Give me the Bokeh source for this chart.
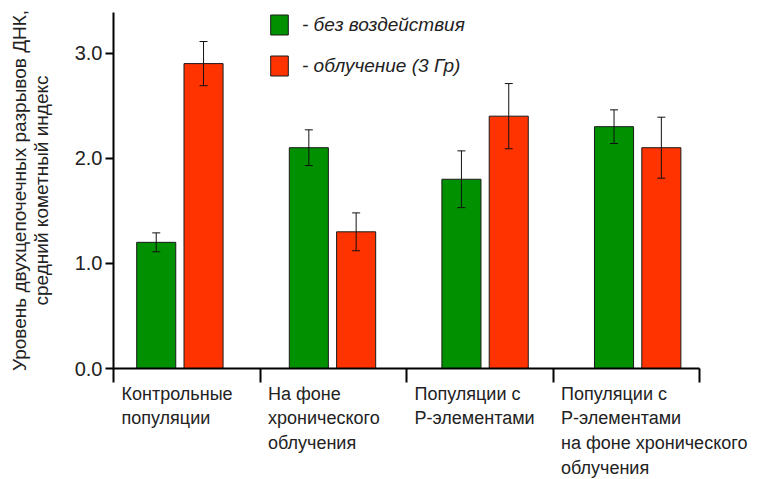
from bokeh.plotting import figure
from bokeh.layouts import column
from bokeh.models import (ColumnDataSource, Whisker, Legend, LegendItem,
                          FixedTicker, NumeralTickFormatter, Range1d, TeeHead,
                          CustomJSTickFormatter)
from bokeh.core.properties import value
from bokeh.embed import file_html
from bokeh.resources import INLINE

# ---- data ----
categories = [
    "Контрольные\nпопуляции",
    "На фоне\nхронического\nоблучения",
    "Популяции с\nP-элементами",
    "Популяции с\nP-элементами\nна фоне хронического\nоблучения",
]
series_names = ["- без воздействия", "- облучение (3 Гр)"]
control_vals = [1.2, 2.1, 1.8, 2.3]
control_err = [0.09, 0.17, 0.27, 0.16]
irradiated_vals = [2.9, 1.3, 2.4, 2.1]
irradiated_err = [0.21, 0.18, 0.31, 0.29]
y_ticks = [0, 1, 2, 3]
y_label = "Уровень двухцепочечных разрывов ДНК,\nсредний кометный индекс"

# ---- layout constants ----
RED_SHIFT = 0.31
BAR_W = 0.256
BOUND0 = -0.28
BOUND_STEP = 0.96
GREEN = "#009000"
RED = "#ff3300"
FONT = "Liberation Sans"
TXT = "#222222"
W = 768
LEFT = 113
RIGHT = 69
TOP = 12
FRAME_H = 356
Y_END = 3.386

n = len(categories)
xg = [i for i in range(n)]
xr = [i + RED_SHIFT for i in range(n)]
bounds = [BOUND0 + BOUND_STEP * k for k in range(n + 1)]
frame_w = W - LEFT - RIGHT
units_per_px = (bounds[-1] - bounds[0]) / frame_w

p = figure(width=W, height=TOP + FRAME_H + 15, output_backend="svg",
           toolbar_location=None,
           x_range=Range1d(bounds[0], bounds[-1]), y_range=Range1d(0, Y_END),
           min_border_left=LEFT, min_border_right=RIGHT, min_border_top=TOP,
           min_border_bottom=15)
p.frame_align = False
p.outline_line_color = None
p.xgrid.grid_line_color = None
p.ygrid.grid_line_color = None

src_g = ColumnDataSource(dict(x=xg, top=control_vals,
                              upper=[v + e for v, e in zip(control_vals, control_err)],
                              lower=[v - e for v, e in zip(control_vals, control_err)]))
src_r = ColumnDataSource(dict(x=xr, top=irradiated_vals,
                              upper=[v + e for v, e in zip(irradiated_vals, irradiated_err)],
                              lower=[v - e for v, e in zip(irradiated_vals, irradiated_err)]))

rg = p.vbar(x="x", top="top", width=BAR_W, source=src_g, fill_color=GREEN,
            line_color="#1a1a1a", line_width=1)
rr = p.vbar(x="x", top="top", width=BAR_W, source=src_r, fill_color=RED,
            line_color="#1a1a1a", line_width=1)

for src in (src_g, src_r):
    w = Whisker(base="x", upper="upper", lower="lower", source=src,
                line_color="#111111", line_width=1, level="annotation",
                upper_head=TeeHead(size=8, line_color="#111111", line_width=1),
                lower_head=TeeHead(size=8, line_color="#111111", line_width=1))
    p.add_layout(w)

# axes
yax = p.yaxis[0]
yax.ticker = FixedTicker(ticks=y_ticks)
yax.formatter = NumeralTickFormatter(format="0.0")
yax.minor_tick_line_color = None
yax.major_tick_out = 8
yax.major_tick_in = 0
yax.axis_line_width = 2
yax.major_tick_line_width = 2
yax.major_label_text_font = FONT
yax.major_label_text_font_size = "20px"
yax.major_label_text_color = TXT
yax.major_label_standoff = 3
yax.axis_label = y_label
yax.axis_label_text_font = FONT
yax.axis_label_text_font_size = "19px"
yax.axis_label_text_font_style = "normal"
yax.axis_label_text_color = TXT
yax.axis_label_text_line_height = 1.05
yax.axis_label_standoff = 20

xax = p.xaxis[0]
xax.ticker = FixedTicker(ticks=bounds)
xax.formatter = CustomJSTickFormatter(code="return '';")
xax.major_label_standoff = 0
xax.minor_tick_line_color = None
xax.major_tick_out = 14
xax.major_tick_in = 0
xax.axis_line_width = 2
xax.major_tick_line_width = 2

legend = Legend(items=[LegendItem(label=series_names[0], renderers=[rg]),
                       LegendItem(label=series_names[1], renderers=[rr])],
                location=(155, 290), padding=0, margin=0, spacing=16,
                glyph_width=22, glyph_height=25, label_height=25,
                label_standoff=12, border_line_alpha=0,
                background_fill_alpha=0,
                label_text_font=FONT, label_text_font_size="19px",
                label_text_font_style="italic", label_text_color=TXT)
p.add_layout(legend)

# category labels panel below the axis (frame runs to the right edge)
P2_H = 479 - (TOP + FRAME_H + 15)
p2 = figure(width=W, height=P2_H, output_backend="svg", toolbar_location=None,
            x_range=Range1d(bounds[0], bounds[-1] + RIGHT * units_per_px),
            y_range=Range1d(-P2_H, 0),
            x_axis_type=None, y_axis_type=None,
            min_border_left=LEFT, min_border_right=0, min_border_top=0,
            min_border_bottom=0)
p2.frame_align = False
p2.outline_line_color = None
p2.xgrid.grid_line_color = None
p2.ygrid.grid_line_color = None
lab_src = ColumnDataSource(dict(x=bounds[:n], y=[0] * n, text=categories))
p2.text(x="x", y="y", text="text", source=lab_src, x_offset=8,
        text_align="left", text_baseline="top", text_font=value(FONT),
        text_font_size="18px", text_color=TXT, text_line_height=1.24)

layout = column(p, p2, spacing=0)
open("out.html", "w").write(file_html(layout, INLINE))
